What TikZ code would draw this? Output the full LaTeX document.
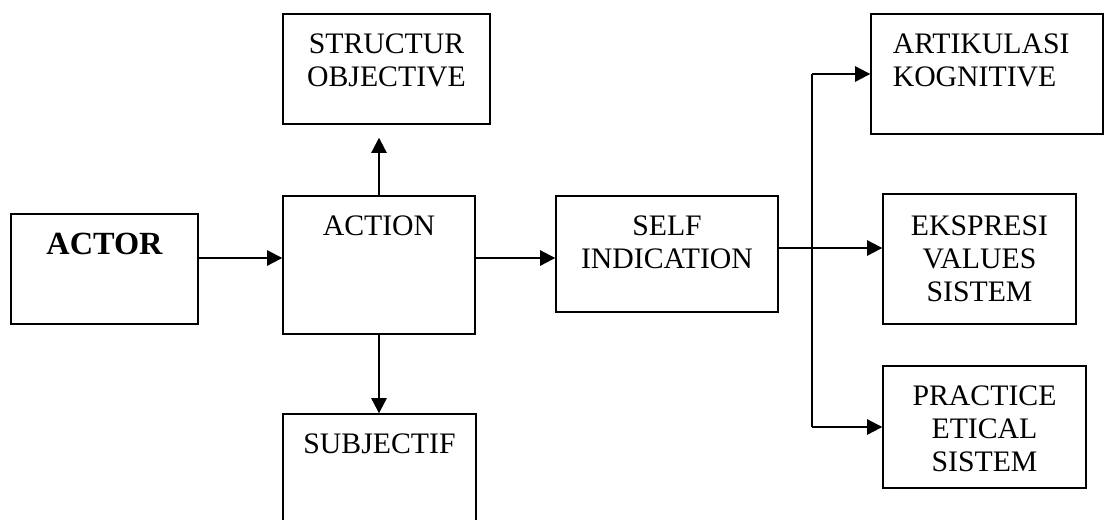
\documentclass[tikz,border=0pt]{standalone}
\usepackage{fontspec}
\setmainfont{Liberation Serif}
\usetikzlibrary{arrows.meta}
\tikzset{
  box/.style={draw, line width=0.6pt, inner sep=0pt},
  lbl/.style={anchor=north, yshift=-0.30cm, align=center, inner sep=0pt,
    font=\fontsize{12.7pt}{14.1pt}\selectfont},
  arr/.style={line width=0.9pt, -{Triangle[length=6.5pt,width=6.5pt]}}
}

\begin{document}
\begin{tikzpicture}[x=0.015cm, y=-0.015cm]
	\useasboundingbox (0,0) rectangle (1105,519);

	\node[box, minimum width=2.805cm, minimum height=1.65cm,
		label={[lbl, yshift=0.01cm, font=\fontsize{13.8pt}{15pt}\selectfont\bfseries]north:ACTOR}] (actor) at (104.5,269) {};
	\node[box, minimum width=2.88cm, minimum height=2.07cm,
		label={[lbl]north:ACTION}] (action) at (379,265) {};
	\node[box, minimum width=3.105cm, minimum height=1.65cm,
		label={[lbl]north:STRUCTUR\\OBJECTIVE}] (struct) at (386.5,69) {};
	\node[box, minimum width=2.895cm, minimum height=1.74cm,
		label={[lbl]north:SUBJECTIF}] (subj) at (379.5,472) {};
	\node[box, minimum width=3.33cm, minimum height=1.74cm,
		label={[lbl]north:SELF\\INDICATION}] (self) at (667,254) {};

	\node[box, minimum width=3.48cm, minimum height=1.8cm,
		label={[lbl, anchor=north west, align=left, xshift=0.33cm]north west:ARTIKULASI\\KOGNITIVE}] (artik) at (987,74) {};
	\node[box, minimum width=2.895cm, minimum height=1.95cm,
		label={[lbl, yshift=-0.03cm]north:EKSPRESI\\VALUES\\SISTEM}] (ekspr) at (979.5,259) {};
	\node[box, minimum width=3.045cm, minimum height=1.83cm,
		label={[lbl]north:PRACTICE\\ETICAL\\SISTEM}] (pract) at (984.5,427) {};

	\coordinate (fork) at ([xshift=0.5cm]self.east);

	\draw[arr] ([yshift=0.165cm]actor.east) -- ([yshift=0.165cm]actor.east -| action.west);
	\draw[arr] ([yshift=0.105cm]action.east) -- ([yshift=0.105cm]action.east -| self.west);
	\draw[arr] (action.north) -- ([yshift=-0.195cm]action.north |- struct.south);
	\draw[arr] (action.south) -- (action.south |- subj.north);

	\draw[arr] ([yshift=0.09cm]self.east) -- ([yshift=0.09cm]self.east -| ekspr.west);
	\draw[line width=0.9pt] (fork |- artik.west) -- (fork |- pract.west);
	\draw[arr] (fork |- artik.west) -- (artik.west);
	\draw[arr] (fork |- pract.west) -- (pract.west);

\end{tikzpicture}
\end{document}
